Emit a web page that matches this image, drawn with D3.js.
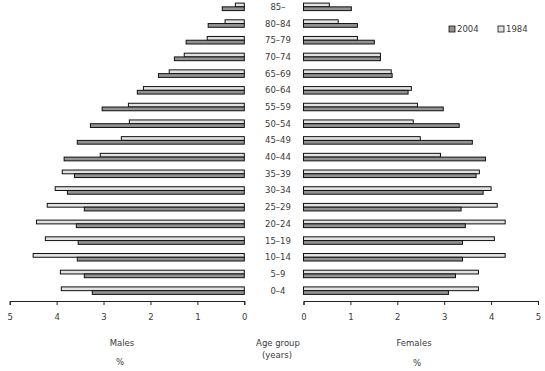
<!DOCTYPE html>
<html>
<head>
<meta charset="utf-8">
<script src="https://cdn.jsdelivr.net/npm/d3@7"></script>
<style>
  body { margin: 0; background: #fff; }
  text { font-family: "DejaVu Sans", sans-serif; font-size: 8.5px; fill: #3a3a3a; }
</style>
</head>
<body>
<div id="chart"></div>
<script>
// age groups, top to bottom
var ages = ["85–", "80–84", "75–79", "70–74", "65–69", "60–64", "55–59", "50–54", "45–49",
            "40–44", "35–39", "30–34", "25–29", "20–24", "15–19", "10–14", "5–9", "0–4"];

var males2004   = [0.47, 0.77, 1.24, 1.49, 1.83, 2.28, 3.03, 3.28, 3.56, 3.84, 3.62, 3.77, 3.41, 3.58, 3.54, 3.56, 3.41, 3.24];
var males1984   = [0.19, 0.41, 0.79, 1.28, 1.60, 2.15, 2.47, 2.45, 2.62, 3.07, 3.88, 4.03, 4.20, 4.43, 4.24, 4.50, 3.92, 3.90];
var females2004 = [1.02, 1.15, 1.51, 1.64, 1.89, 2.23, 2.98, 3.32, 3.60, 3.88, 3.68, 3.83, 3.36, 3.45, 3.39, 3.39, 3.24, 3.09];
var females1984 = [0.55, 0.74, 1.15, 1.64, 1.87, 2.30, 2.43, 2.34, 2.49, 2.92, 3.75, 4.00, 4.13, 4.30, 4.07, 4.30, 3.73, 3.73];
var ticks = [0, 1, 2, 3, 4, 5];
var series = ["2004", "1984"];

var w = 545, h = 371;
var c2004 = "#929292", c1984 = "#e2e2e2";

var svg = d3.select("#chart").append("svg")
    .attr("width", w).attr("height", h);

var xL = d3.scaleLinear().domain([0, 5]).range([244.3, 9.7]);
var xR = d3.scaleLinear().domain([0, 5]).range([303.5, 538]);
var y = d3.scaleBand().domain(ages).range([-1.5, 299])
    .paddingInner(0.55).paddingOuter(0.275);
var bh = y.bandwidth() / 2;

var rows = ages.map(function(a, i){
  return {age: a, m04: males2004[i], m84: males1984[i], f04: females2004[i], f84: females1984[i]};
});

var g = svg.selectAll("g.row").data(rows).enter().append("g").attr("class", "row");

function bar(sel, side, key, off, col) {
  var x = side === "L" ? xL : xR;
  sel.append("rect")
    .attr("x", d => side === "L" ? x(d[key]) : x(0))
    .attr("y", d => y(d.age) + off)
    .attr("width", d => side === "L" ? x(0) - x(d[key]) : x(d[key]) - x(0))
    .attr("height", bh)
    .attr("fill", col)
    .attr("stroke", "#111")
    .attr("stroke-width", 1);
}
bar(g, "L", "m84", 0, c1984);
bar(g, "L", "m04", bh, c2004);
bar(g, "R", "f84", 0, c1984);
bar(g, "R", "f04", bh, c2004);

g.append("text")
  .attr("x", 278)
  .attr("y", d => y(d.age) + y.bandwidth() / 2)
  .attr("dy", "0.35em")
  .attr("text-anchor", "middle")
  .text(d => d.age);

// axes
var axL = svg.append("g").attr("transform", "translate(0,301)")
  .call(d3.axisBottom(xL).tickValues(ticks).tickSize(4).tickPadding(9).tickFormat(d3.format("d")));
var axR = svg.append("g").attr("transform", "translate(0,301)")
  .call(d3.axisBottom(xR).tickValues(ticks).tickSize(4).tickPadding(9).tickFormat(d3.format("d")));
svg.selectAll(".domain").attr("stroke", "#222");
svg.selectAll(".tick line").attr("stroke", "#222");
svg.selectAll(".tick text").style("font-family", "DejaVu Sans").style("font-size", "8.5px").attr("fill", "#3a3a3a");

// axis titles
svg.append("text").attr("x", 122).attr("y", 346).attr("text-anchor", "middle").text("Males");
svg.append("text").attr("x", 120).attr("y", 365).attr("text-anchor", "middle").text("%");
svg.append("text").attr("x", 278).attr("y", 346).attr("text-anchor", "middle").text("Age group");
svg.append("text").attr("x", 277).attr("y", 358).attr("text-anchor", "middle").text("(years)");
svg.append("text").attr("x", 414).attr("y", 346).attr("text-anchor", "middle").text("Females");
svg.append("text").attr("x", 417).attr("y", 366).attr("text-anchor", "middle").text("%");

// legend
var leg = svg.selectAll("g.leg").data(series).enter().append("g").attr("class", "leg")
  .attr("transform", (d, i) => "translate(" + (449 + i * 49) + ",26)");
leg.append("rect").attr("width", 6).attr("height", 6)
  .attr("fill", d => d === "2004" ? c2004 : c1984)
  .attr("stroke", "#111").attr("stroke-width", 0.8);
leg.append("text").attr("x", 8).attr("y", 6).text(d => d);
</script>
</body>
</html>
